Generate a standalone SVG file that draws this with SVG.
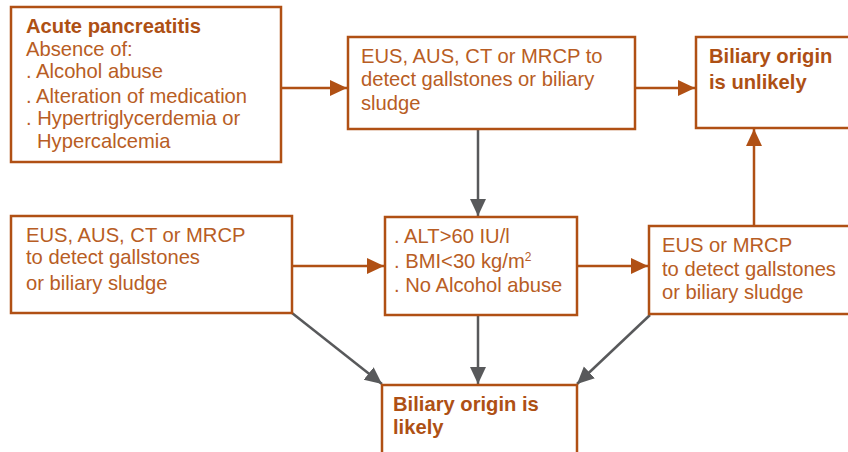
<svg xmlns="http://www.w3.org/2000/svg" width="848" height="452" viewBox="0 0 848 452">
<defs>
<style>
.box{fill:#fff;stroke:#B05014;stroke-width:2.5}
.t{font-family:"Liberation Sans",Arial,sans-serif;font-size:20.2px;fill:#B85D24}
.b{font-weight:bold;fill:#AE5014}
.br{stroke:#B05014;stroke-width:2.5;fill:none}
.gr{stroke:#58595B;stroke-width:2.5;fill:none}
</style>
<marker id="ab" markerUnits="userSpaceOnUse" markerWidth="18" markerHeight="18" viewBox="0 0 18 18" refX="17" refY="9" orient="auto"><path d="M0,1 L17,9 L0,17 Z" fill="#B05014"/></marker>
<marker id="ag" markerUnits="userSpaceOnUse" markerWidth="18" markerHeight="18" viewBox="0 0 18 18" refX="17" refY="9" orient="auto"><path d="M0,1 L17,9 L0,17 Z" fill="#58595B"/></marker>
</defs>
<rect width="848" height="452" fill="#fff"/>
<g id="connectors">
<line class="br" x1="281" y1="88" x2="347" y2="88" marker-end="url(#ab)"/>
<line class="br" x1="635" y1="88" x2="695" y2="88" marker-end="url(#ab)"/>
<line class="br" x1="754" y1="226" x2="754" y2="129" marker-end="url(#ab)"/>
<line class="br" x1="292" y1="266" x2="384" y2="266" marker-end="url(#ab)"/>
<line class="br" x1="577" y1="266" x2="648" y2="266" marker-end="url(#ab)"/>
<line class="gr" x1="478" y1="129" x2="478" y2="216" marker-end="url(#ag)"/>
<line class="gr" x1="478" y1="315" x2="478" y2="384" marker-end="url(#ag)"/>
<line class="gr" x1="292" y1="313" x2="382" y2="384" marker-end="url(#ag)"/>
<line class="gr" x1="650" y1="315" x2="577" y2="384" marker-end="url(#ag)"/>
</g>
<g id="n1">
<rect class="box" x="11" y="7" width="270" height="155"/>
<text class="t b" x="26" y="33">Acute pancreatitis</text>
<text class="t" x="26" y="56">Absence of:</text>
<text class="t" x="26" y="78">. Alcohol abuse</text>
<text class="t" x="26" y="103">. Alteration of medication</text>
<text class="t" x="26" y="125">. Hypertriglycerdemia or</text>
<text class="t" x="37" y="148">Hypercalcemia</text>
</g>
<g id="n2">
<rect class="box" x="348" y="37" width="287" height="92"/>
<text class="t" x="361" y="63">EUS, AUS, CT or MRCP to</text>
<text class="t" x="361" y="86">detect gallstones or biliary</text>
<text class="t" x="361" y="110">sludge</text>
</g>
<g id="n3">
<rect class="box" x="696" y="37" width="160" height="91"/>
<text class="t b" x="709" y="63">Biliary origin</text>
<text class="t b" x="709" y="89">is unlikely</text>
</g>
<g id="n4">
<rect class="box" x="11" y="216" width="281" height="97"/>
<text class="t" x="26" y="242">EUS, AUS, CT or MRCP</text>
<text class="t" x="26" y="264">to detect gallstones</text>
<text class="t" x="26" y="290">or biliary sludge</text>
</g>
<g id="n5">
<rect class="box" x="385" y="217" width="192" height="98"/>
<text class="t" x="394" y="243">. ALT&gt;60 IU/l</text>
<text class="t" x="394" y="268">. BMI&lt;30 kg/m<tspan font-size="12" dy="-7">2</tspan></text>
<text class="t" x="394" y="292">. No Alcohol abuse</text>
</g>
<g id="n6">
<rect class="box" x="649" y="226" width="210" height="88"/>
<text class="t" x="662" y="252">EUS or MRCP</text>
<text class="t" x="662" y="276">to detect gallstones</text>
<text class="t" x="662" y="299">or biliary sludge</text>
</g>
<g id="n7">
<rect class="box" x="382" y="385" width="195" height="80"/>
<text class="t b" x="393" y="411">Biliary origin is</text>
<text class="t b" x="393" y="434">likely</text>
</g>
</svg>
